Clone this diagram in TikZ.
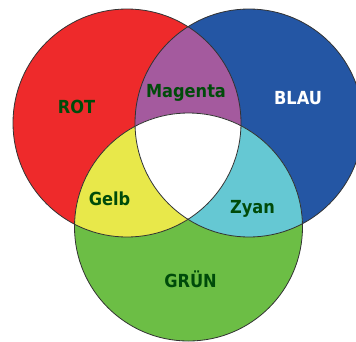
\documentclass[tikz,border=0pt]{standalone}
\usepackage{fontspec}
\newfontfamily\lab{DejaVu Sans Condensed}
\definecolor{cred}{RGB}{238,42,43}
\definecolor{cblue}{RGB}{36,86,164}
\definecolor{cgreen}{RGB}{108,190,69}
\definecolor{cmag}{RGB}{164,90,158}
\definecolor{cyel}{RGB}{232,232,74}
\definecolor{ccyan}{RGB}{101,200,211}
\definecolor{txtgreen}{RGB}{0,75,10}
\begin{document}
\begin{tikzpicture}[x=1pt,y=-1pt,
  lbl/.style={font=\lab\bfseries\fontsize{18}{20}\selectfont, text=txtgreen, anchor=base, inner sep=0pt},
  rim/.style={draw=black!80, line width=0.8pt}]
\useasboundingbox (0,0) rectangle (356,341);
\def\R{114}
\coordinate (r) at (127,123);
\coordinate (b) at (249,123);
\coordinate (g) at (188.5,227);
\fill[cred] (r) circle[radius=\R];
\fill[cblue] (b) circle[radius=\R];
\fill[cgreen] (g) circle[radius=\R];
\begin{scope}\clip (r) circle[radius=\R]; \fill[cmag] (b) circle[radius=\R];\end{scope}
\begin{scope}\clip (r) circle[radius=\R]; \fill[cyel] (g) circle[radius=\R];\end{scope}
\begin{scope}\clip (b) circle[radius=\R]; \fill[ccyan] (g) circle[radius=\R];\end{scope}
\begin{scope}\clip (r) circle[radius=\R]; \clip (b) circle[radius=\R]; \fill[white] (g) circle[radius=\R];\end{scope}
\draw[rim] (r) circle[radius=\R];
\draw[rim] (b) circle[radius=\R];
\draw[rim] (g) circle[radius=\R];
\node[lbl] (rot) at (76.5,113) {ROT};
\node[lbl] (mag) at (186,97) {Magenta};
\node[lbl,text=white] (blau) at (298,104) {BLAU};
\node[lbl] (gelb) at (109.5,205) {Gelb};
\node[lbl] (zyan) at (252.5,213) {Zyan};
\node[lbl] (gruen) at (190.5,287) {GRÜN};
\end{tikzpicture}
\end{document}
